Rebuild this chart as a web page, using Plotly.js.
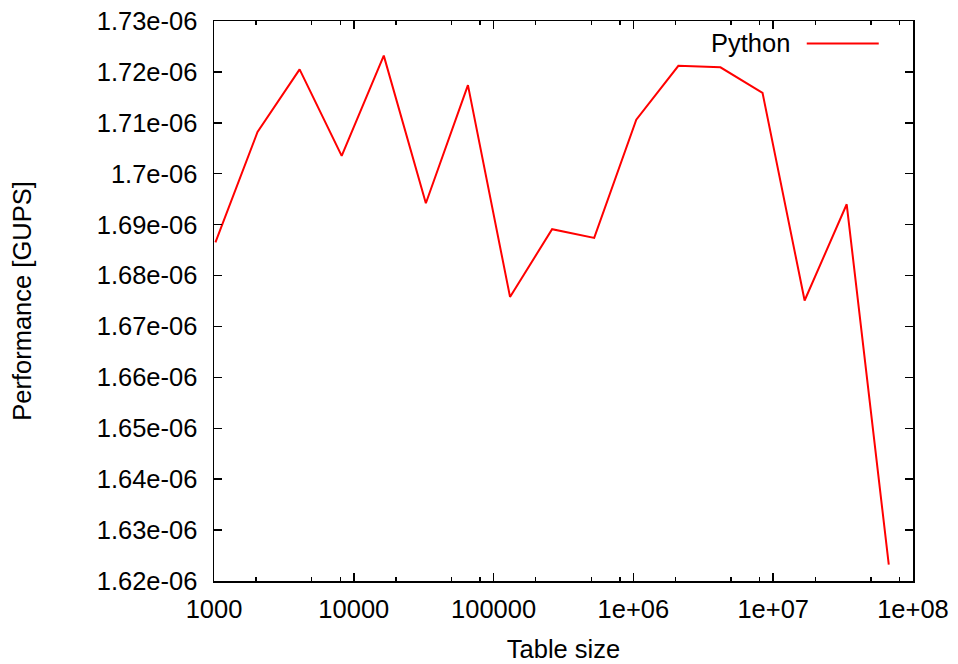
<!DOCTYPE html>
<html>
<head>
<meta charset="utf-8">
<script src="https://cdn.plot.ly/plotly-3.0.1.min.js"></script>
<style>html,body{margin:0;padding:0;background:#fff;}#chart{width:958px;height:664px;}</style>
</head>
<body>
<div id="chart"></div>
<script>
const seriesName = "Python";
const tableSize = [1024, 2048, 4096, 8192, 16384, 32768, 65536, 131072, 262144, 524288,
  1048576, 2097152, 4194304, 8388608, 16777216, 33554432, 67108864];
const performance = [1.6865e-6, 1.7082e-6, 1.7205e-6, 1.7035e-6, 1.7232e-6, 1.6942e-6, 1.7174e-6,
  1.6758e-6, 1.6891e-6, 1.6874e-6, 1.7106e-6, 1.7212e-6, 1.7209e-6, 1.7159e-6, 1.6751e-6,
  1.6940e-6, 1.6232e-6];
const xTickVals = [1e3, 1e4, 1e5, 1e6, 1e7, 1e8];
const xTickText = ["1000", "10000", "100000", "1e+06", "1e+07", "1e+08"];
const xMinorVals = [];
for (const d of [1e3, 1e4, 1e5, 1e6, 1e7]) for (const m of [2, 5, 8]) xMinorVals.push(d * m);
const yTickVals = [1.62e-6,1.63e-6,1.64e-6,1.65e-6,1.66e-6,1.67e-6,1.68e-6,1.69e-6,1.70e-6,1.71e-6,1.72e-6,1.73e-6];
const yTickText = ["1.62e-06","1.63e-06","1.64e-06","1.65e-06","1.66e-06","1.67e-06","1.68e-06","1.69e-06","1.7e-06","1.71e-06","1.72e-06","1.73e-06"];

const font = {family: "Liberation Sans, Arial, sans-serif", size: 25.5, color: "#000"};

const trace = {
  x: tableSize, y: performance, type: "scatter", mode: "lines", name: seriesName,
  line: {color: "#ff0000", width: 2}, showlegend: false
};

const layout = {
  width: 958, height: 664,
  margin: {l: 214, r: 45, t: 21, b: 83, pad: 0},
  paper_bgcolor: "#fff", plot_bgcolor: "#fff",
  font: font,
  showlegend: false,
  xaxis: {
    type: "log", range: [3, 8], tickmode: "array", tickvals: xTickVals, ticktext: xTickText,
    ticks: "inside", ticklen: 8, tickwidth: 1.5, tickcolor: "#000", ticklabelstandoff: 5,
    minor: {tickmode: "array", tickvals: xMinorVals, ticks: "inside", ticklen: 4, tickwidth: 1.5, tickcolor: "#000"},
    showline: true, linecolor: "#000", linewidth: 1.5, mirror: "ticks",
    showgrid: false, zeroline: false, tickfont: font,
    title: {text: "Table size", font: font, standoff: 18}
  },
  yaxis: {
    range: [1.62e-6, 1.73e-6], tickmode: "array", tickvals: yTickVals, ticktext: yTickText,
    ticks: "inside", ticklen: 8, tickwidth: 1.5, tickcolor: "#000", ticklabelstandoff: 10,
    showline: true, linecolor: "#000", linewidth: 1.5, mirror: "ticks",
    showgrid: false, zeroline: false, tickfont: font,
    title: {text: "Performance [GUPS]", font: font, standoff: 58}
  },
  annotations: [{
    text: seriesName, xref: "paper", yref: "paper", x: 0.827, y: 0.96,
    xanchor: "right", yanchor: "middle", showarrow: false, font: font
  }],
  shapes: [{
    type: "line", xref: "paper", yref: "paper", x0: 0.848, x1: 0.951, y0: 0.96, y1: 0.96,
    line: {color: "#ff0000", width: 2}
  }]
};

Plotly.newPlot("chart", [trace], layout, {staticPlot: true, displayModeBar: false});
</script>
</body>
</html>
